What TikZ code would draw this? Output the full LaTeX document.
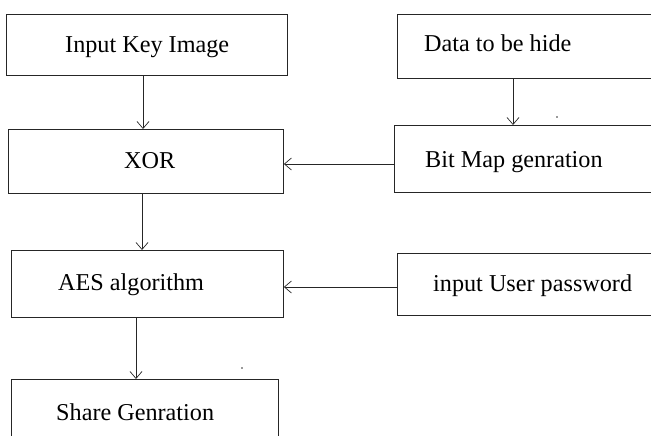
\documentclass[tikz,border=0pt]{standalone}
\usepackage{fontspec}
\setmainfont{Liberation Serif}
\usetikzlibrary{arrows.meta}
\begin{document}
\begin{tikzpicture}[x=1pt,y=-1pt,
  box/.style={draw=black!85, line width=0.9pt, inner sep=0pt, anchor=north west},
  lbl/.style={anchor=base west, inner sep=0pt, font=\fontsize{24.2}{29}\selectfont},
  flow/.style={draw=black!85, line width=0.9pt, -{Straight Barb[length=7pt,width=12pt,line width=0.7pt]}}]
\useasboundingbox (0,0) rectangle (651,436);
\begin{scope}
\clip (0,0) rectangle (651,436);
% left column
\node[box, minimum width=281pt, minimum height=61pt] (key) at (6,14) {};
\node[box, minimum width=275pt, minimum height=64pt] (xor) at (8,129) {};
\node[box, minimum width=272pt, minimum height=67pt] (aes) at (11,250) {};
\node[box, minimum width=267pt, minimum height=70pt] (share) at (11,379) {};
% right column (runs off the right edge)
\node[box, minimum width=270pt, minimum height=64pt] (data) at (397,14) {};
\node[box, minimum width=273pt, minimum height=67pt] (bitmap) at (394,125) {};
\node[box, minimum width=270pt, minimum height=62pt] (pwd) at (397,253) {};
\end{scope}
% labels
\node[lbl] (tkey) at (65,53) {Input Key Image};
\node[lbl] (txor) at (124,168) {XOR};
\node[lbl] (taes) at (58,290) {AES algorithm};
\node[lbl] (tshare) at (56,420) {Share Genration};
\node[lbl] (tdata) at (424,52) {Data to be hide};
\node[lbl] (tbitmap) at (425,167) {Bit Map genration};
\node[lbl] (tpwd) at (433,291) {input User password};
% connectors
\coordinate (c1) at (143,0);
\draw[flow] (key.south -| c1) -- (xor.north -| c1);
\coordinate (c2) at (513,0);
\draw[flow] (data.south -| c2) -- (bitmap.north -| c2);
\coordinate (c3) at (0,164);
\draw[flow] (bitmap.west |- c3) -- (xor.east |- c3);
\coordinate (c4) at (142,0);
\draw[flow] (xor.south -| c4) -- (aes.north -| c4);
\coordinate (c5) at (0,287);
\draw[flow] (pwd.west |- c5) -- (aes.east |- c5);
\coordinate (c6) at (136,0);
\draw[flow] (aes.south -| c6) -- (share.north -| c6);
% stray specks
\fill[black!80] (557,117) circle (0.8pt);
\fill[black!80] (242,368) circle (0.8pt);
\end{tikzpicture}
\end{document}
